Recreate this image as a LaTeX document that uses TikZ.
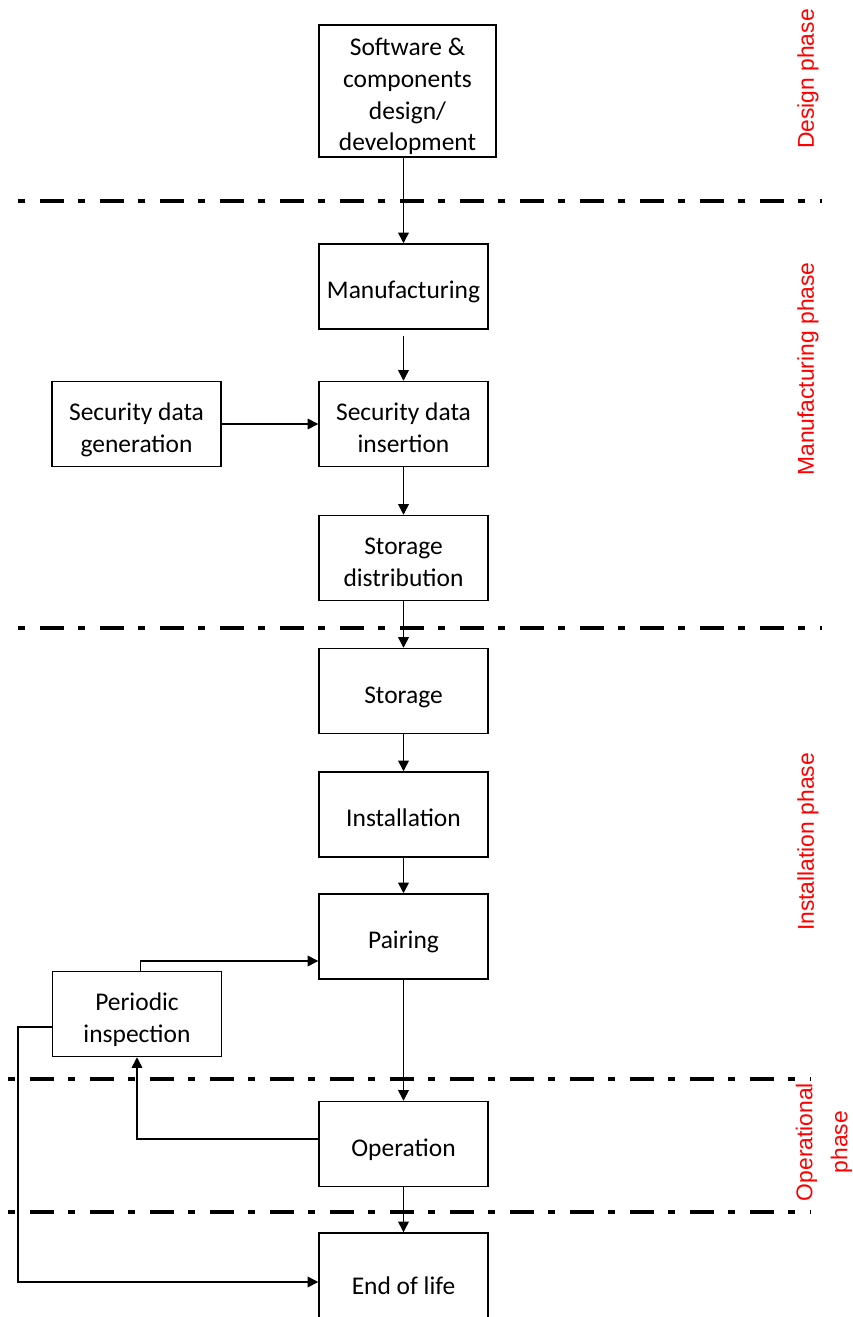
\documentclass[tikz,border=0pt]{standalone}
\usepackage{fontspec}
\setmainfont{Carlito}
\newfontfamily\redfont{Liberation Sans}
\usetikzlibrary{arrows.meta}
\newcommand{\bxt}[1]{\raisebox{-0.12cm}[\height][\depth]{\begin{tabular}{@{}c@{}}#1\end{tabular}}}
\begin{document}
\begin{tikzpicture}[x=0.02cm,y=-0.02cm,
  box/.style={draw, line width=0.85pt, minimum width=3.38cm, minimum height=1.7cm,
    align=center, inner sep=0pt, font=\fontsize{14.5}{18}\selectfont},
  arr/.style={line width=0.85pt, -{Triangle[length=6pt,width=6pt]}},
  phaseline/.style={line width=1.75pt, dash pattern=on 0.14cm off 0.3cm on 0.48cm off 0.28cm},
  phaselabel/.style={rotate=90, text=red, align=center, inner sep=0pt,
    font=\redfont\fontsize{13}{20}\selectfont}]
\useasboundingbox (0,0) rectangle (852,1317);
\clip (0,0) rectangle (852,1317);

% boxes
\node[box, minimum width=3.54cm, minimum height=2.64cm] (sw) at (407.5,91) {\bxt{Software \&\\components\\design/\\development}};
\node[box] (manu) at (403.5,286.5) {\bxt{Manufacturing}};
\node[box] (ins) at (403.5,424) {\bxt{Security data\\insertion}};
\node[box] (gen) at (136.5,424) {\bxt{Security data\\generation}};
\node[box] (dist) at (403.5,558) {\bxt{Storage\\distribution}};
\node[box] (stor) at (403.5,691) {\bxt{Storage}};
\node[box] (inst) at (403.5,814.5) {\bxt{Installation}};
\node[box] (pair) at (403.5,936.5) {\bxt{Pairing}};
\node[box] (per) at (137,1014) {\bxt{Periodic\\inspection}};
\node[box] (op) at (403.5,1144) {\bxt{Operation}};
\node[box, minimum height=1.96cm] (eol) at (403.5,1282) {\bxt{End of life}};

% phase separators
\coordinate (l1a) at (18,201);  \coordinate (l1b) at (822,201);
\coordinate (l2a) at (18,628);  \coordinate (l2b) at (822,628);
\coordinate (l3a) at (8,1079);  \coordinate (l3b) at (810,1079);
\coordinate (l4a) at (8,1212);  \coordinate (l4b) at (810,1212);
\draw[phaseline] (l1a) -- (l1b);
\draw[phaseline] (l2a) -- (l2b);
\draw[phaseline] (l3a) -- (l3b);
\draw[phaseline] (l4a) -- (l4b);

% phase labels
\node[phaselabel] (lab1) at (808,79) {Design phase};
\node[phaselabel] (lab2) at (808,369) {Manufacturing phase};
\node[phaselabel] (lab3) at (808,842) {Installation phase};
\node[phaselabel] (lab4) at (824,1142) {Operational\\phase};

% connectors
\draw[arr] (manu.north |- sw.south) -- (manu.north);
\draw[arr] ([yshift=-0.12cm]manu.south) -- (ins.north);
\draw[arr] (gen.east) -- (ins.west);
\draw[arr] (ins.south) -- (dist.north);
\draw[arr] (dist.south) -- (stor.north);
\draw[arr] (stor.south) -- (inst.north);
\draw[arr] (inst.south) -- (pair.north);
\draw[arr] (pair.south) -- (op.north);
\draw[arr] (op.south) -- (eol.north);
\draw[arr] ([yshift=0.1cm]op.west) -| (per.south);
\draw[arr] ([xshift=0.07cm]per.north) |- ([yshift=-0.49cm]pair.west);
\coordinate (lc) at (18,1000);
\draw[arr] ([yshift=-0.26cm]per.west) -| (lc |- eol.west) -- (eol.west);
\end{tikzpicture}
\end{document}
